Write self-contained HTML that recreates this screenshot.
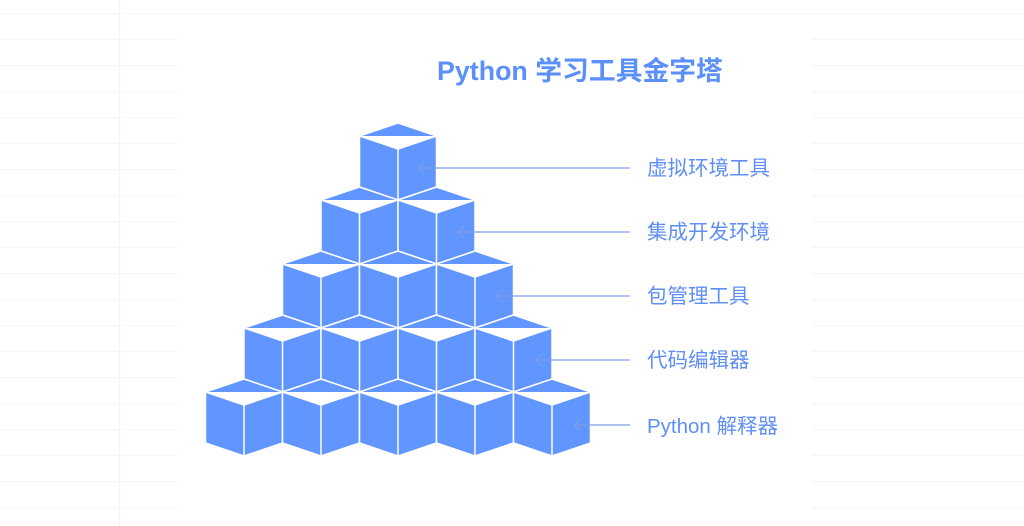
<!DOCTYPE html>
<html><head><meta charset="utf-8"><style>
html,body{margin:0;padding:0;background:#fff;width:1024px;height:526px;overflow:hidden}
</style></head><body>
<svg width="1024" height="526" viewBox="0 0 1024 526" xmlns="http://www.w3.org/2000/svg">
<g stroke="#f6f6f6" stroke-width="1.2" id="bg"></g>
<line x1="119.5" y1="0" x2="119.5" y2="526" stroke="#fcf0f0" stroke-width="1"/>
<text x="437" y="80" font-family="Liberation Sans, Noto Sans CJK SC, sans-serif" font-weight="bold" font-size="26.8" fill="#5b8ff9">Python 学习工具金字塔</text>
<g id="cubes" fill="#6195ff" stroke="#fff" stroke-width="1.5" stroke-linejoin="round"></g>
<g stroke="#7b9de6" stroke-width="1.3" fill="none" id="arrows"></g>
<g font-family="Liberation Sans, Noto Sans CJK SC, sans-serif" font-size="20.5" fill="#5f8ff5">
<text x="647" y="175">虚拟环境工具</text>
<text x="647" y="239">集成开发环境</text>
<text x="647" y="303">包管理工具</text>
<text x="647" y="367">代码编辑器</text>
<text x="647" y="433">Python 解释器</text>
</g>
<script>
var ns='http://www.w3.org/2000/svg';
var bg=document.getElementById('bg');
function ln(x1,y1,x2,y2){var l=document.createElementNS(ns,'line');l.setAttribute('x1',x1);l.setAttribute('y1',y1);l.setAttribute('x2',x2);l.setAttribute('y2',y2);bg.appendChild(l);}
ln(0,13.5,1024,13.5);
for(var yy=39.5;yy<526;yy+=26){ln(0,yy,178,yy);ln(812,yy,1024,yy);}
var g=document.getElementById('cubes'),a=document.getElementById('arrows');
var h=38.5,t=13,f=51;
for(var r=0;r<5;r++){var y=123+64*r;for(var k=0;k<=r;k++){var x=398+(2*k-r)*h;
var p=document.createElementNS(ns,'path');
p.setAttribute('d','M'+x+','+y+' L'+(x+h)+','+(y+t)+' L'+(x+h)+','+(y+t+f)+' L'+x+','+(y+2*t+f)+' L'+(x-h)+','+(y+t+f)+' L'+(x-h)+','+(y+t)+' Z M'+(x-h)+','+(y+t)+' L'+x+','+(y+2*t)+' L'+(x+h)+','+(y+t)+' M'+x+','+(y+2*t)+' L'+x+','+(y+2*t+f));
g.appendChild(p);}
var ay=168+64*r+(r==4?1:0),ax=418+39*r;
var l=document.createElementNS(ns,'path');
l.setAttribute('d','M630,'+ay+' L'+ax+','+ay+' M'+(ax+7)+','+(ay-6)+' L'+ax+','+ay+' L'+(ax+7)+','+(ay+6));
a.appendChild(l);}
</script>
</svg>
</body></html>
